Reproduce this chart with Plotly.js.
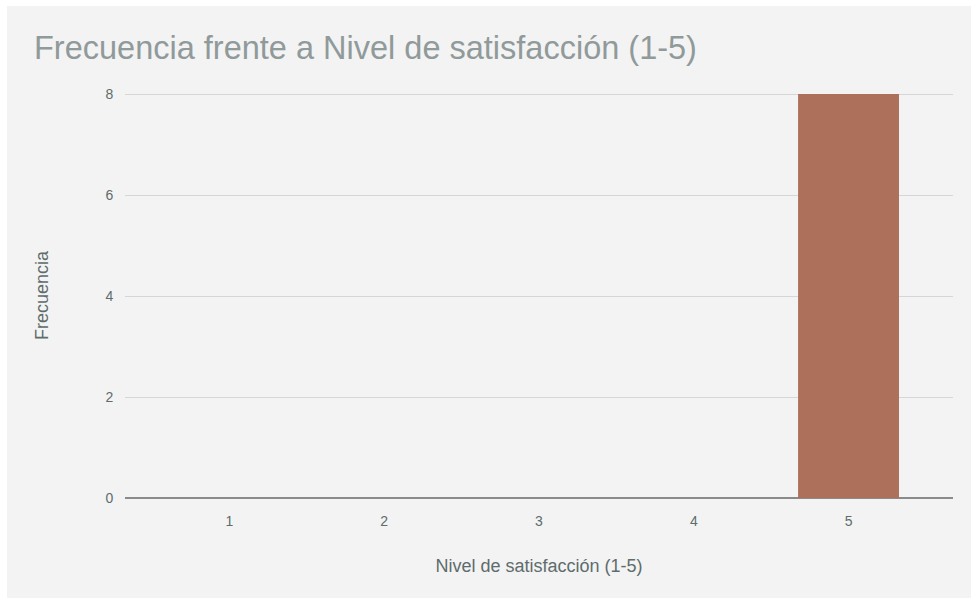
<!DOCTYPE html>
<html>
<head>
<meta charset="utf-8">
<script src="https://cdn.plot.ly/plotly-3.0.1.min.js"></script>
<style>
  html, body { margin: 0; padding: 0; background: #f3f3f3; overflow: hidden; }
  #chart { position: absolute; left: 7px; top: 6px; width: 964px; height: 592px; }
  .strip { position: absolute; background: #ffffff; }
</style>
</head>
<body>
<div class="strip" style="left:0;top:0;width:971px;height:6px;"></div>
<div class="strip" style="left:0;top:0;width:7px;height:598px;"></div>
<div id="chart"></div>
<script>
const chartTitle = "Frecuencia frente a Nivel de satisfacción (1-5)";
const xTitle = "Nivel de satisfacción (1-5)";
const yTitle = "Frecuencia";
const levels = [1, 2, 3, 4, 5];
const levelLabels = ["1", "2", "3", "4", "5"];
const frequencies = [0, 0, 0, 0, 8];
const yTicks = [0, 2, 4, 6, 8];

const trace = {
  type: "bar",
  x: levels,
  y: frequencies,
  width: 0.652,
  marker: { color: "#ad705b" },
  hoverinfo: "x+y"
};

const layout = {
  width: 964,
  height: 592,
  paper_bgcolor: "#f3f3f3",
  plot_bgcolor: "#f3f3f3",
  margin: { l: 118, r: 18, t: 87, b: 100 },
  showlegend: false,
  font: { family: "Liberation Sans, Arial, sans-serif", color: "#5e6c6c" },
  title: {
    text: chartTitle,
    font: { size: 32.5, color: "#909a9a", family: "Liberation Sans, Arial, sans-serif" },
    xref: "container", x: 27 / 964, xanchor: "left",
    yref: "container", y: 1 - 30 / 592, yanchor: "top"
  },
  xaxis: {
    range: [0.325, 5.675],
    tickvals: levels,
    ticktext: levelLabels,
    showgrid: false,
    zeroline: false,
    showline: false,
    ticks: "outside",
    ticklen: 10,
    tickcolor: "rgba(0,0,0,0)",
    tickfont: { size: 14, color: "#5e6c6c" },
    title: { text: xTitle, font: { size: 18, color: "#5e6c6c" }, standoff: 31 },
    automargin: false,
    fixedrange: true
  },
  yaxis: {
    range: [0, 8.02],
    tickvals: yTicks,
    ticktext: yTicks.map(String),
    showgrid: true,
    gridcolor: "#d6d6d6",
    gridwidth: 1,
    zeroline: true,
    zerolinecolor: "#8a8a8a",
    zerolinewidth: 2,
    showline: false,
    ticks: "outside",
    ticklen: 8,
    tickcolor: "rgba(0,0,0,0)",
    tickfont: { size: 14, color: "#5e6c6c" },
    title: { text: yTitle, font: { size: 18, color: "#5e6c6c" }, standoff: 52 },
    automargin: false,
    fixedrange: true
  }
};

Plotly.newPlot("chart", [trace], layout, { displayModeBar: false, staticPlot: true });
</script>
</body>
</html>
